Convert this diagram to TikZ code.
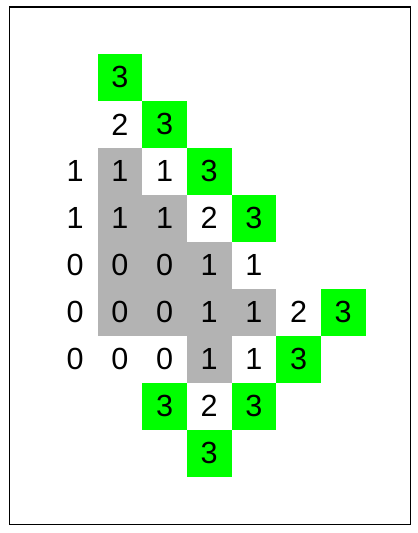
\documentclass[tikz,border=0pt]{standalone}
\usepackage{fontspec}
\setmainfont{Liberation Sans}
\definecolor{cellgreen}{RGB}{0,255,0}
\definecolor{cellgray}{RGB}{179,179,179}
\def\colstep{0.8933}
\def\rowstep{0.939}
\tikzset{cell/.style={minimum width=8.933mm, minimum height=9.39mm, inner sep=0pt,
        font=\fontsize{17.4}{20}\selectfont},
    numwhite/.style={cell},
    numgreen/.style={cell, fill=cellgreen},
    numgray/.style={cell, fill=cellgray}}

\begin{document}
\begin{tikzpicture}
    \useasboundingbox (0,0) rectangle (8.34,-10.66);
    \draw[line width=0.6pt] (0.19,-0.14) rectangle (8.21,-10.485);
    % row/column/value/style
    \foreach \r/\c/\v/\k in {0/1/3/numgreen,
        1/1/2/numwhite, 1/2/3/numgreen,
        2/0/1/numwhite, 2/1/1/numgray, 2/2/1/numwhite, 2/3/3/numgreen,
        3/0/1/numwhite, 3/1/1/numgray, 3/2/1/numgray, 3/3/2/numwhite, 3/4/3/numgreen,
        4/0/0/numwhite, 4/1/0/numgray, 4/2/0/numgray, 4/3/1/numgray, 4/4/1/numwhite,
        5/0/0/numwhite, 5/1/0/numgray, 5/2/0/numgray, 5/3/1/numgray, 5/4/1/numgray, 5/5/2/numwhite, 5/6/3/numgreen,
        6/0/0/numwhite, 6/1/0/numwhite, 6/2/0/numwhite, 6/3/1/numgray, 6/4/1/numwhite, 6/5/3/numgreen,
        7/2/3/numgreen, 7/3/2/numwhite, 7/4/3/numgreen,
        8/3/3/numgreen}
        \node[\k] (n\r\c) at ({1.5047+\colstep*\c},{-1.5495-\rowstep*\r}) {\v};
\end{tikzpicture}
\end{document}
